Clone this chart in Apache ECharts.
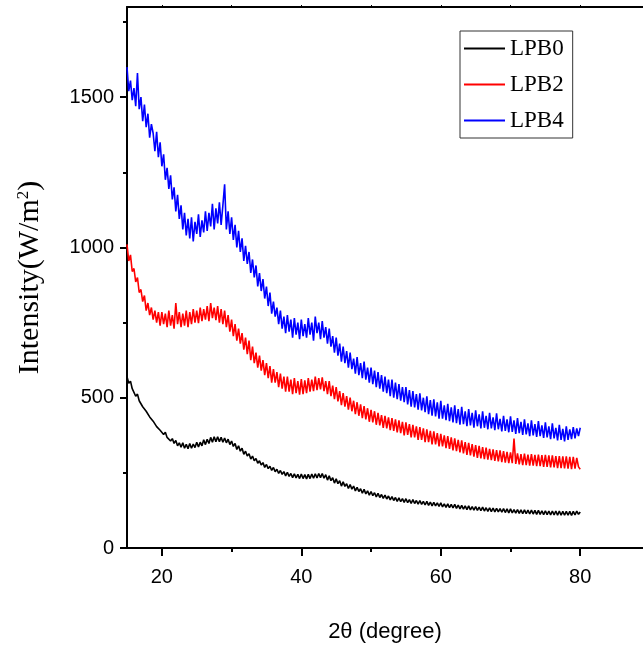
<!DOCTYPE html>
<html>
<head>
<meta charset="utf-8">
<script src="https://cdn.jsdelivr.net/npm/echarts@6/dist/echarts.min.js"></script>
<style>
html,body{margin:0;padding:0;background:#fff;}
#chart{width:643px;height:651px;}
</style>
</head>
<body>
<div id="chart"></div>
<script>
// 2θ sampling grid (degrees), 0.25° step from 15 to 80
const angles = [];
for (let i = 0; i <= 260; i++) angles.push(15 + i * 0.25);

const lpb0 = [
570,548,555,530, 528,505,512,490, 488,470,475,455, 452,436,440,422, 420,404,410,392,
392,378,385,368, 372,356,364,348, 358,340,350,335, 350,332,345,330, 348,332,346,334,
352,336,352,340, 360,344,362,348, 368,352,370,354, 370,354,368,352, 366,350,362,344,
356,338,348,328, 340,322,332,312, 322,306,314,296, 306,290,298,282, 290,276,284,268,
278,264,272,258, 268,254,262,248, 258,245,254,240, 252,238,248,234, 247,233,245,231,
246,231,244,230, 245,231,246,232, 247,233,248,234, 248,232,244,226, 240,224,234,216,
230,214,224,206, 220,205,214,198, 211,196,206,190, 202,188,197,182, 195,180,190,176,
188,174,184,170, 182,168,178,165, 176,163,173,160, 171,158,168,155, 167,154,164,152,
164,151,161,148, 161,148,158,146, 158,145,155,143, 155,142,153,140, 152,140,150,138,
150,137,147,135, 147,134,145,133, 145,132,143,130, 142,129,140,128, 140,127,138,126,
138,125,136,124, 136,123,134,122, 134,121,133,120, 132,120,131,119, 131,118,130,117,
130,117,128,116, 128,115,127,114, 127,114,126,113, 126,113,125,112, 125,112,124,111,
124,111,123,110, 123,110,123,109, 123,109,122,109, 122,109,122,108, 122,110,123,112,
120
];

const lpb2 = [
1010,955,975,920, 930,885,900,850, 860,820,840,790, 815,775,800,760, 790,750,785,740,
785,745,780,735, 790,740,775,730, 815,745,785,735, 780,740,790,735, 785,745,795,750,
790,748,800,755, 795,760,805,755, 815,765,800,758, 805,750,795,745, 790,735,775,720,
760,705,745,690, 730,680,715,660, 700,645,690,625, 670,615,650,600, 640,590,625,575,
615,565,605,550, 595,550,585,535, 580,530,570,520, 570,520,560,512, 565,515,555,510,
562,512,558,515, 565,520,560,522, 570,525,565,528, 568,522,555,512, 555,505,540,495,
535,488,522,475, 515,470,505,460, 500,455,490,445, 485,440,478,432, 472,428,465,420,
460,418,455,410, 450,408,442,400, 440,398,435,392, 432,390,428,385, 425,382,420,375,
418,376,412,368, 410,368,405,360, 402,360,398,352, 395,352,390,345, 388,345,382,338,
380,338,375,332, 372,330,368,325, 365,322,360,318, 358,315,352,310, 350,308,346,304,
342,300,340,298, 336,296,334,294, 330,292,328,290, 326,288,325,286, 322,284,320,282,
318,282,364,280, 315,278,312,276, 314,276,311,274, 312,274,310,272, 311,272,309,270,
310,270,308,268, 308,268,306,266, 306,266,305,265, 305,264,303,262, 303,264,300,270,
262
];

const lpb4 = [
1600,1520,1555,1490, 1530,1470,1580,1460, 1500,1420,1475,1400, 1445,1365,1410,1380, 1320,1385,1300,1350,
1270,1310,1225,1265, 1195,1240,1160,1200, 1120,1175,1095,1140, 1060,1115,1040,1095, 1030,1100,1020,1085,
1045,1110,1035,1090, 1050,1120,1055,1115, 1070,1145,1060,1130, 1080,1150,1075,1140, 1210,1060,1120,1045,
1100,1025,1075,1000, 1055,985,1030,955, 1005,945,985,915, 960,900,940,870, 915,855,895,830,
870,805,850,780, 820,770,800,745, 790,730,770,715, 775,720,760,700, 765,710,750,695,
760,705,745,700, 765,710,750,690, 770,715,750,695, 755,700,735,680, 730,670,705,650,
700,640,680,620, 670,615,655,600, 650,595,630,580, 635,575,615,565, 620,560,600,550,
600,545,590,535, 585,530,575,520, 570,515,560,505, 560,500,550,495, 545,490,535,485,
535,478,525,470, 522,468,512,460, 515,458,500,452, 505,445,492,440, 495,438,485,430,
490,430,475,425, 480,422,468,418, 475,415,462,410, 470,412,455,405, 462,408,450,400,
458,405,445,398, 455,400,440,395, 450,398,435,392, 448,395,430,388, 440,390,428,385,
438,386,425,380, 432,382,420,376, 428,378,415,372, 425,375,412,370, 422,372,408,366,
418,368,405,362, 415,365,400,358, 410,360,396,355, 405,360,395,362, 402,365,398,372,
400
];

const seriesNames = ['LPB0', 'LPB2', 'LPB4'];
const seriesColors = ['#000000', '#ff0000', '#0000ff'];
const xMajorTicks = [20, 40, 60, 80];
const xMinorTicks = [30, 50, 70];
const xTopTicks = [20, 30, 40, 50, 60, 70, 80];
const yMajorTicks = [0, 500, 1000, 1500];
const yMinorTicks = [250, 750, 1250, 1750];

const toPairs = arr => arr.map((v, i) => [angles[i], v]);
const allData = [lpb0, lpb2, lpb4];

const numFont = "'Liberation Sans', Arial, sans-serif";
const serifFont = "'Liberation Serif', 'Times New Roman', serif";

const chart = echarts.init(document.getElementById('chart'), null, {renderer: 'canvas'});
const axisLine = {show: true, lineStyle: {color: '#000', width: 2}};

chart.setOption({
  animation: false,
  backgroundColor: '#fff',
  grid: {left: 127, right: 0, top: 7, bottom: 103, containLabel: false},
  legend: {
    orient: 'vertical',
    left: 460, top: 31,
    padding: [6, 9, 6, 4],
    itemGap: 13,
    itemWidth: 41, itemHeight: 2,
    borderColor: '#333', borderWidth: 1,
    textStyle: {fontFamily: serifFont, fontSize: 23, color: '#000'},
    data: seriesNames.map(n => ({name: n, icon: 'rect'}))
  },
  xAxis: [
    {
      type: 'value', position: 'bottom', min: 15, max: 89,
      axisLine: axisLine,
      axisTick: {show: true, length: 8, customValues: xMajorTicks, lineStyle: {color: '#000', width: 2}},
      axisLabel: {show: true, customValues: xMajorTicks, margin: 19, color: '#000', fontSize: 20, fontFamily: numFont,
                  formatter: v => String(v)},
      splitLine: {show: false},
      name: '2θ (degree)', nameLocation: 'middle', nameGap: 73,
      nameTextStyle: {fontFamily: numFont, fontSize: 22, color: '#000'}
    },
    {
      type: 'value', position: 'bottom', min: 15, max: 89,
      axisLine: {show: false},
      axisTick: {show: true, length: 4, customValues: xMinorTicks, lineStyle: {color: '#000', width: 2}},
      axisLabel: {show: false},
      splitLine: {show: false}
    },
    {
      type: 'value', position: 'top', min: 15, max: 89,
      axisLine: axisLine,
      axisTick: {show: true, length: 2, customValues: xTopTicks, lineStyle: {color: '#000', width: 1}},
      axisLabel: {show: false},
      splitLine: {show: false}
    }
  ],
  yAxis: [
    {
      type: 'value', position: 'left', min: 0, max: 1800,
      axisLine: axisLine,
      axisTick: {show: true, length: 7, customValues: yMajorTicks, lineStyle: {color: '#000', width: 2}},
      axisLabel: {show: true, customValues: yMajorTicks, margin: 13, color: '#000', fontSize: 20, fontFamily: numFont,
                  formatter: v => String(v)},
      splitLine: {show: false},
      name: '{a|Intensity(W/m}{s|2}{a|)}', nameLocation: 'middle', nameGap: 82,
      nameTextStyle: {
        rich: {
          a: {fontFamily: serifFont, fontSize: 30, color: '#000'},
          s: {fontFamily: serifFont, fontSize: 17, color: '#000', verticalAlign: 'top', padding: [0, 0, 12, 0]}
        }
      }
    },
    {
      type: 'value', position: 'left', min: 0, max: 1800,
      axisLine: {show: false},
      axisTick: {show: true, length: 4, customValues: yMinorTicks, lineStyle: {color: '#000', width: 2}},
      axisLabel: {show: false},
      splitLine: {show: false}
    }
  ],
  series: seriesNames.map((n, k) => ({
    name: n, type: 'line', xAxisIndex: 0, yAxisIndex: 0,
    data: toPairs(allData[k]),
    showSymbol: false, symbol: 'none',
    lineStyle: {color: seriesColors[k], width: 1.6},
    itemStyle: {color: seriesColors[k]},
    z: 3 + k
  }))
});
</script>
</body>
</html>
